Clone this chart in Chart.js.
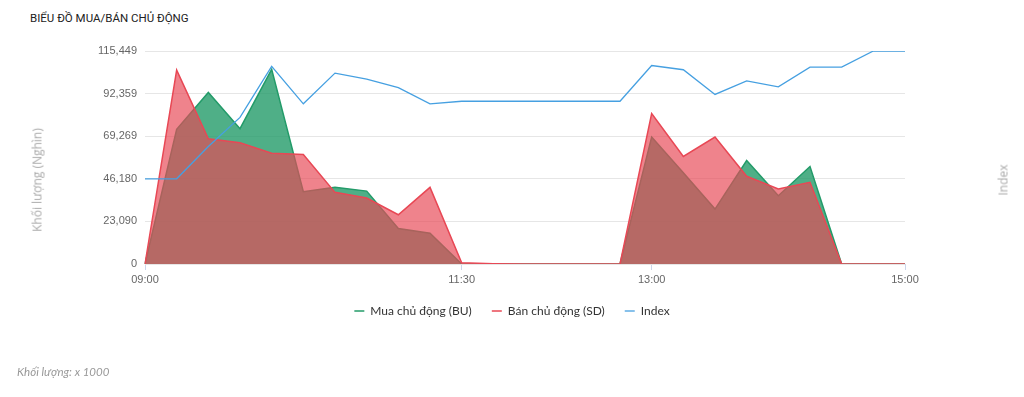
<!DOCTYPE html>
<html>
<head>
<meta charset="utf-8">
<script src="https://cdn.jsdelivr.net/npm/chart.js@4"></script>
<style>
  html, body { margin: 0; padding: 0; background: #fff; }
  #wrap { position: relative; width: 1024px; height: 397px; overflow: hidden; }
  #chart { position: absolute; left: 0; top: 0; }
  .title { position: absolute; left: 30px; top: 11px; font: 11.5px Roboto, sans-serif; color: #222; }
  .ytitle { position: absolute; font: 12px 'Open Sans', sans-serif; color: #aaa; white-space: nowrap;
            transform: translate(-50%, -50%) rotate(-90deg); }
  .note { position: absolute; left: 17px; top: 365px; font: italic 11.5px Lato, sans-serif; color: #999; }
</style>
</head>
<body>
<div id="wrap">
  <div class="title">BIỂU ĐỒ MUA/BÁN CHỦ ĐỘNG</div>
  <canvas id="chart" width="1024" height="397"></canvas>
  <div class="ytitle" style="left:37px; top:180px;">Khối lượng (Nghìn)</div>
  <div class="ytitle" style="left:1003px; top:180px;">Index</div>
  <div class="note">Khối lượng: x 1000</div>
</div>
<script>
// các mốc thời gian 15 phút
const timeLabels = ['09:00', '09:15', '09:30', '09:45', '10:00', '10:15', '10:30', '10:45', '11:00', '11:15',
  '11:30', '11:45', '12:00', '12:15', '12:30', '12:45', '13:00', '13:15', '13:30', '13:45',
  '14:00', '14:15', '14:30', '14:45', '15:00'];
const shownTimes = ['09:00', '11:30', '13:00', '15:00'];

// khối lượng (x1000)
const muaBU = [0, 72970, 92960, 73350, 105480, 39210, 41550, 39500, 19220, 16720,
  0, 0, 0, 0, 0, 0, 68780, 49500, 29790, 56090, 37030, 52820, 0, 0, 0];
const banSD = [0, 105100, 67910, 65730, 60070, 59360, 38830, 35780, 26680, 41550,
  700, 200, 0, 0, 0, 0, 81520, 58270, 68780, 47540, 40680, 44270, 0, 0, 0];

// chỉ số
const indexValues = [1180.0, 1180.0, 1183.8, 1187.2, 1193.2, 1188.8, 1192.4, 1191.7, 1190.7, 1188.8,
  1189.1, 1189.1, 1189.1, 1189.1, 1189.1, 1189.1, 1193.3, 1192.8, 1189.9, 1191.5,
  1190.8, 1193.1, 1193.1, 1195.0, 1195.0];

const yTicks = [0, 23090, 46180, 69269, 92359, 115449];
const indexMin = 1170;
const indexMax = 1195;

const ctx = document.getElementById('chart').getContext('2d');
new Chart(ctx, {
  type: 'line',
  data: {
    labels: timeLabels,
    datasets: [
      {
        label: 'Mua chủ động (BU)',
        data: muaBU,
        borderColor: 'rgb(35,155,105)',
        backgroundColor: 'rgba(35,155,105,0.8)',
        borderWidth: 1.5,
        fill: 'origin',
        order: 2
      },
      {
        label: 'Bán chủ động (SD)',
        data: banSD,
        borderColor: 'rgb(232,72,85)',
        backgroundColor: 'rgba(232,72,85,0.68)',
        borderWidth: 1.5,
        fill: 'origin',
        order: 1
      },
      {
        label: 'Index',
        data: indexValues,
        yAxisID: 'y1',
        borderColor: 'rgb(70,160,225)',
        backgroundColor: 'rgb(70,160,225)',
        borderWidth: 1.3,
        fill: false,
        order: 0
      }
    ]
  },
  options: {
    responsive: false,
    animation: false,
    layout: { padding: { top: 51, bottom: 70, left: 0, right: 0 } },
    elements: { point: { radius: 0 }, line: { tension: 0 } },
    plugins: {
      tooltip: { enabled: false },
      legend: {
        position: 'bottom',
        labels: {
          usePointStyle: true,
          pointStyle: 'line',
          pointStyleWidth: 10,
          padding: 20,
          color: '#333',
          font: { family: 'Lato', size: 12 },
          sort: (a, b) => a.datasetIndex - b.datasetIndex
        }
      }
    },
    scales: {
      x: {
        grid: {
          drawOnChartArea: false,
          drawTicks: true,
          tickLength: 6,
          color: c => shownTimes.includes(timeLabels[c.index]) ? '#ccd6eb' : 'rgba(0,0,0,0)'
        },
        border: { display: false },
        ticks: {
          autoSkip: false,
          maxRotation: 0,
          padding: 3,
          color: '#666',
          font: { family: 'Liberation Sans', size: 11 },
          callback: function (v, i) { return shownTimes.includes(timeLabels[i]) ? timeLabels[i] : ''; }
        },
        afterFit: s => { s.height = 21; }
      },
      y: {
        position: 'left',
        min: 0,
        max: 115449,
        afterBuildTicks: s => { s.ticks = yTicks.map(v => ({ value: v })); },
        grid: { color: '#e6e6e6', drawTicks: false },
        border: { display: false },
        ticks: {
          padding: 8,
          color: '#666',
          font: { family: 'Liberation Sans', size: 11 },
          callback: v => v.toLocaleString('en-US')
        },
        afterFit: s => { s.width = 145; }
      },
      y1: {
        position: 'right',
        min: indexMin,
        max: indexMax,
        grid: { display: false },
        border: { display: false },
        ticks: { display: false },
        afterFit: s => { s.width = 119; }
      }
    }
  }
});
</script>
</body>
</html>
